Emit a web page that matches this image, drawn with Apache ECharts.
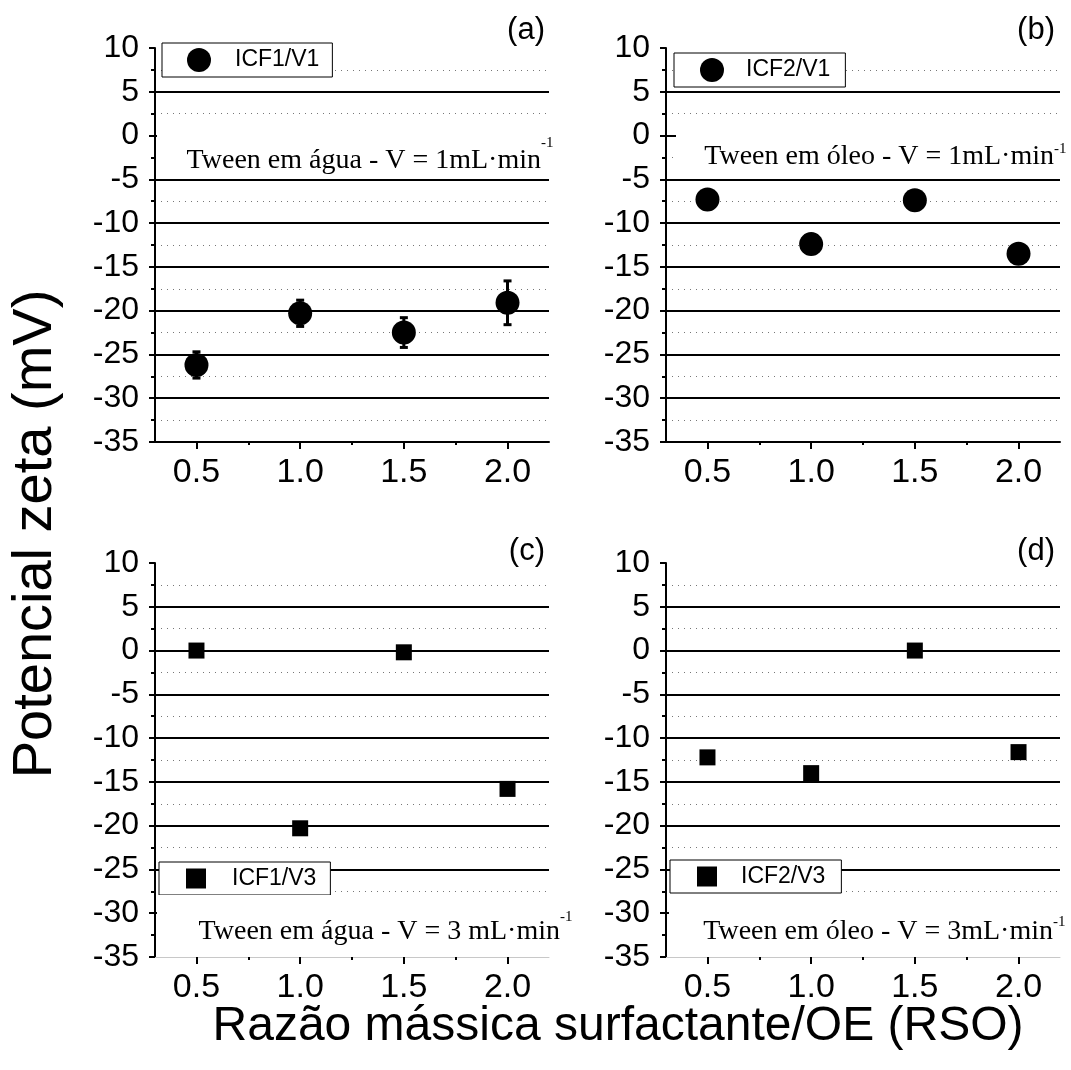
<!DOCTYPE html>
<html>
<head>
<meta charset="utf-8">
<script src="https://cdn.jsdelivr.net/npm/echarts@6/dist/echarts.min.js"></script>
<style>
html,body{margin:0;padding:0;background:#fff;}
#chart{width:1071px;height:1070px;}
</style>
</head>
<body>
<div id="chart"></div>
<script>
// ---- data ----
const rso = [0.5, 1.0, 1.5, 2.0];
const xTickLabels = [0.5, 1.0, 1.5, 2.0];
const xMinorTicks = [0.75, 1.25, 1.75];
const icf1v1 = [-26.2, -20.3, -22.5, -19.1];
const icf1v1Err = [1.5, 1.5, 1.7, 2.5];
const icf2v1 = [-7.3, -12.4, -7.4, -13.5];
const icf1v3 = [0.0, -20.3, -0.2, -15.8];
const icf2v3 = [-12.2, -14.0, 0.0, -11.6];
const panelNames = ['ICF1/V1', 'ICF2/V1', 'ICF1/V3', 'ICF2/V3'];

const SANS = '"Liberation Sans", Arial, sans-serif';
const SERIF = '"Liberation Serif", "Times New Roman", serif';

const grids = [
  {left: 155, top: 48, width: 394, height: 394},
  {left: 666, top: 48, width: 394, height: 394},
  {left: 155, top: 563, width: 394, height: 394},
  {left: 666, top: 563, width: 394, height: 394}
];

const xAxes = [], yAxes = [];
grids.forEach((g, i) => {
  const lower = i >= 2;
  xAxes.push({
    type: 'value', gridIndex: i, min: 0.3, max: 2.2, position: 'bottom',
    axisLine: {show: true, onZero: false, lineStyle: {color: lower ? '#c8c8c8' : '#000', width: lower ? 1 : 2}},
    axisTick: {show: true, customValues: xTickLabels, length: 7, lineStyle: {color: '#000', width: 2}},
    axisLabel: {show: true, customValues: xTickLabels, formatter: v => v.toFixed(1), fontSize: 34, color: '#000', fontFamily: SANS, margin: 14},
    splitLine: {show: false}
  });
  xAxes.push({
    type: 'value', gridIndex: i, min: 0.3, max: 2.2, position: 'bottom', offset: 0,
    axisLine: {show: false, onZero: false},
    axisTick: {show: true, customValues: xMinorTicks, length: 3, lineStyle: {color: '#000', width: 2}},
    axisLabel: {show: false},
    splitLine: {show: false}
  });
  yAxes.push({
    type: 'value', gridIndex: i, min: -35, max: 10, interval: 5,
    axisLine: {show: true, onZero: false, lineStyle: {color: '#000', width: 2}},
    axisTick: {show: true, length: 6, lineStyle: {color: '#000', width: 2}},
    minorTick: {show: true, splitNumber: 2, length: 4, lineStyle: {color: '#000', width: 2}},
    axisLabel: {fontSize: 32, color: '#000', fontFamily: SANS, margin: 16},
    splitLine: {show: true, showMinLine: false, showMaxLine: false, lineStyle: {color: '#000', width: 2}},
    minorSplitLine: {show: true, lineStyle: {color: '#777', width: 1, type: [1, 5]}}
  });
});

function pts(vals) { return rso.map((x, k) => [x, vals[k]]); }

const series = [
  {name: 'ICF1/V1', type: 'scatter', xAxisIndex: 0, yAxisIndex: 0, symbol: 'circle', symbolSize: 24,
   itemStyle: {color: '#000', opacity: 1}, data: pts(icf1v1), z: 5},
  {name: 'err', type: 'custom', xAxisIndex: 0, yAxisIndex: 0, z: 4,
   data: rso.map((x, k) => [x, icf1v1[k], icf1v1Err[k]]),
   encode: {x: 0, y: 1},
   renderItem: (params, api) => {
     const x = api.value(0), y = api.value(1), e = api.value(2);
     const t = api.coord([x, y + e]), b = api.coord([x, y - e]);
     const st = {stroke: '#000', lineWidth: 3};
     return {type: 'group', children: [
       {type: 'line', shape: {x1: t[0], y1: t[1], x2: b[0], y2: b[1]}, style: st},
       {type: 'line', shape: {x1: t[0] - 4, y1: t[1], x2: t[0] + 4, y2: t[1]}, style: st},
       {type: 'line', shape: {x1: b[0] - 4, y1: b[1], x2: b[0] + 4, y2: b[1]}, style: st}
     ]};
   }},
  {name: 'ICF2/V1', type: 'scatter', xAxisIndex: 2, yAxisIndex: 1, symbol: 'circle', symbolSize: 24,
   itemStyle: {color: '#000', opacity: 1}, data: pts(icf2v1), z: 5},
  {name: 'ICF1/V3', type: 'scatter', xAxisIndex: 4, yAxisIndex: 2, symbol: 'rect', symbolSize: 16,
   itemStyle: {color: '#000', opacity: 1}, data: pts(icf1v3), z: 5},
  {name: 'ICF2/V3', type: 'scatter', xAxisIndex: 6, yAxisIndex: 3, symbol: 'rect', symbolSize: 16,
   itemStyle: {color: '#000', opacity: 1}, data: pts(icf2v3), z: 5}
];

function legend(name, left, top, icon, size, padL, textPad, padR) {
  return {
    data: [{name: name, icon: icon}], left: left, top: top, orient: 'horizontal',
    itemWidth: size, itemHeight: size, itemGap: 0,
    padding: [5, padR, 5, padL],
    borderColor: '#000', borderWidth: 1, backgroundColor: '#fff', borderRadius: 0,
    textStyle: {fontSize: 23, color: '#000', fontFamily: SANS, padding: [0, 0, 0, textPad]},
    selectedMode: false, z: 20
  };
}

const legends = [
  legend(panelNames[0], 162, 43, 'circle', 24, 25, 19, 13),
  legend(panelNames[1], 674, 53, 'circle', 24, 26, 17, 15),
  legend(panelNames[2], 159, 862, 'rect', 20, 27, 21, 14),
  legend(panelNames[3], 670, 860, 'rect', 20, 27, 19, 16)
];

function txt(text, x, y, font, align) {
  return {type: 'text', zlevel: 1, z: 30,
    style: {text: text, x: x, y: y, font: font, fill: '#000', align: align || 'left', verticalAlign: 'middle'}};
}
function cover(x, y, w, h) {
  return {type: 'rect', zlevel: 1, z: 25, shape: {x: x, y: y, width: w, height: h}, style: {fill: '#fff', stroke: null}};
}

const graphics = [
  cover(157, 128, 392, 48),
  cover(676, 128, 384, 48),
  cover(157, 895, 392, 61),
  cover(669, 895, 391, 61),
  txt('Tween em água - V = 1mL·min', 541, 161, '28px ' + SERIF, 'right'),
  txt('-1', 541, 143, '15px ' + SERIF, 'left'),
  txt('Tween em óleo - V = 1mL·min', 1054, 157, '28px ' + SERIF, 'right'),
  txt('-1', 1054, 149, '15px ' + SERIF, 'left'),
  txt('Tween em água - V = 3 mL·min', 560, 932, '28px ' + SERIF, 'right'),
  txt('-1', 560, 917, '15px ' + SERIF, 'left'),
  txt('Tween em óleo - V = 3mL·min', 1053, 932, '28px ' + SERIF, 'right'),
  txt('-1', 1053, 922, '15px ' + SERIF, 'left'),
  txt('(a)', 545, 30, '31px ' + SANS, 'right'),
  txt('(b)', 1055, 30, '31px ' + SANS, 'right'),
  txt('(c)', 545, 551, '31px ' + SANS, 'right'),
  txt('(d)', 1055, 551, '31px ' + SANS, 'right'),
  {type: 'text', zlevel: 1, z: 30, x: 36, y: 534, rotation: Math.PI / 2,
   style: {text: 'Potencial zeta (mV)', x: 0, y: 0, font: '56px ' + SANS, fill: '#000', align: 'center', verticalAlign: 'middle'}},
  txt('Razão mássica surfactante/OE (RSO)', 618, 1027, '48px ' + SANS, 'center')
];

const chart = echarts.init(document.getElementById('chart'), null, {renderer: 'canvas'});
chart.setOption({
  animation: false,
  backgroundColor: '#fff',
  grid: grids,
  xAxis: xAxes,
  yAxis: yAxes,
  legend: legends,
  series: series,
  graphic: {elements: graphics}
});
</script>
</body>
</html>
